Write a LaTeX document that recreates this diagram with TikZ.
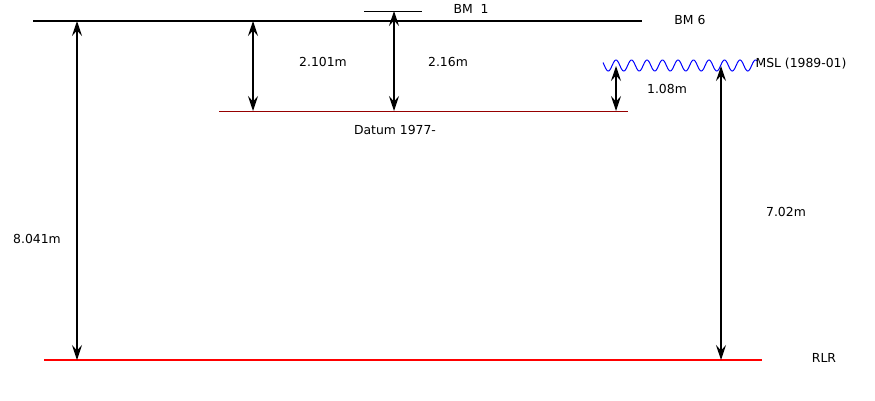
\documentclass[tikz,border=0pt]{standalone}
\usepackage{fontspec}
\setmainfont{DejaVu Sans}
\usetikzlibrary{arrows.meta}
\definecolor{datumred}{RGB}{150,0,0}
\begin{document}
\begin{tikzpicture}[x=1pt,y=-1pt,
  dim/.style={{Stealth[length=15pt,width=10pt,inset=5.5pt]}-{Stealth[length=15pt,width=10pt,inset=5.5pt]}, line width=1.2pt},
  lbl/.style={font=\fontsize{12.4}{13}\selectfont, inner sep=0pt}]
\useasboundingbox (0,0) rectangle (875,400);
% levels
\coordinate (bm6L) at (33,21); \coordinate (bm6R) at (642,21);
\coordinate (bm1L) at (364,11); \coordinate (bm1R) at (422,11);
\coordinate (datL) at (219,111); \coordinate (datR) at (628,111);
\coordinate (rlrL) at (44,360); \coordinate (rlrR) at (762,360);
\draw[line width=2pt] (bm6L) -- (bm6R);
\draw[line width=0.7pt] (bm1L) -- (bm1R);
\draw[line width=1pt, datumred] (datL) -- (datR);
\draw[line width=2pt, red] (rlrL) -- (rlrR);
\draw[blue, line width=1pt] plot[domain=0:154, samples=300] ({\x+603},{65.5-5.5*cos(23.2258*(\x-13))});
% labels
\node[lbl] (tbm6) at (690,20) {BM 6};
\node[lbl] (tbm1) at (471,9) {BM\ \ 1};
\node[lbl] (tdat) at (395,130) {Datum 1977-};
\node[lbl] (tmsl) at (801,64) {MSL (1989-01)};
\node[lbl] (trlr) at (824,358) {RLR};
\node[lbl] (t1) at (37,239) {8.041m};
\node[lbl] (t2) at (323,62) {2.101m};
\node[lbl] (t3) at (448,62) {2.16m};
\node[lbl] (t4) at (667,89) {1.08m};
\node[lbl] (t5) at (786,212) {7.02m};
% dimension arrows
\coordinate (a1t) at (77,21);  \coordinate (a1b) at (77,360);
\coordinate (a2t) at (253,21); \coordinate (a2b) at (253,111);
\coordinate (a3t) at (394,11); \coordinate (a3b) at (394,111);
\coordinate (a4t) at (616,66); \coordinate (a4b) at (616,111);
\coordinate (a5t) at (721,66); \coordinate (a5b) at (721,360);
\draw[dim] (a1t) -- (a1b);
\draw[dim] (a2t) -- (a2b);
\draw[dim] (a3t) -- (a3b);
\draw[dim] (a4t) -- (a4b);
\draw[dim] (a5t) -- (a5b);
\end{tikzpicture}
\end{document}
